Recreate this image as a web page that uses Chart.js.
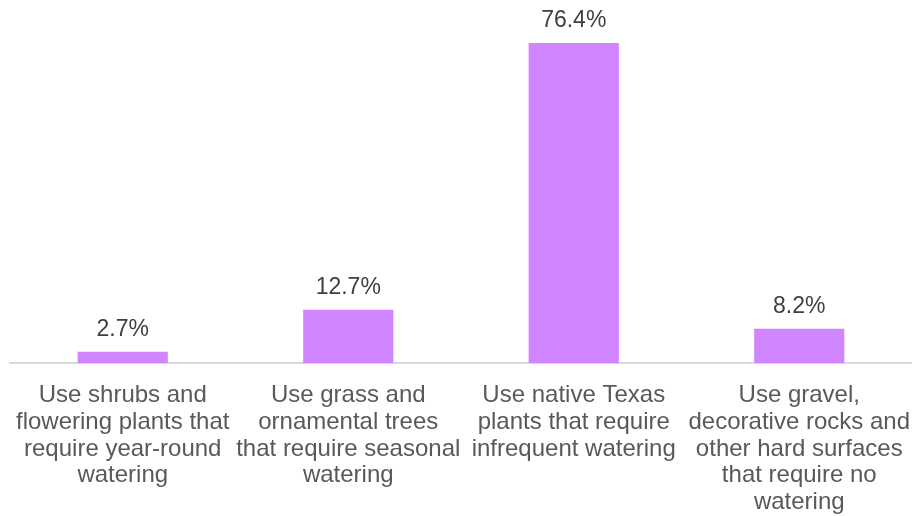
<!DOCTYPE html>
<html>
<head>
<meta charset="utf-8">
<script src="https://cdn.jsdelivr.net/npm/chart.js@4"></script>
<style>
  html, body { margin: 0; padding: 0; background: #ffffff; }
  #wrap { width: 912px; height: 516px; position: relative; }
</style>
</head>
<body>
<div id="wrap"><canvas id="chart"></canvas></div>
<script>
// Landscaping choices and the share of respondents picking each
const categories = [
  ["Use shrubs and", "flowering plants that", "require year-round", "watering"],
  ["Use grass and", "ornamental trees", "that require seasonal", "watering"],
  ["Use native Texas", "plants that require", "infrequent watering"],
  ["Use gravel,", "decorative rocks and", "other hard surfaces", "that require no", "watering"]
];
const shares = [2.7, 12.7, 76.4, 8.2];

const labelColor = '#595959';
const valueColor = '#404040';
const barColor = '#D186FF';
const fontFamily = '"Liberation Sans", Arial, sans-serif';

// Writes each bar's value above it
const valueLabels = {
  id: 'valueLabels',
  afterDatasetsDraw(chart) {
    const ctx = chart.ctx;
    const meta = chart.getDatasetMeta(0);
    ctx.save();
    ctx.font = '23px ' + fontFamily;
    ctx.fillStyle = valueColor;
    ctx.textAlign = 'center';
    ctx.textBaseline = 'middle';
    meta.data.forEach((bar, i) => {
      ctx.fillText(shares[i].toFixed(1) + '%', bar.x, bar.y - 22);
    });
    ctx.restore();
  }
};

new Chart(document.getElementById('chart'), {
  type: 'bar',
  data: {
    labels: categories,
    datasets: [{
      data: shares,
      backgroundColor: barColor,
      borderWidth: 0,
      categoryPercentage: 1,
      barPercentage: 0.4
    }]
  },
  options: {
    responsive: true,
    maintainAspectRatio: false,
    animation: false,
    layout: { padding: { left: 10, right: 0, top: 28, bottom: 0 } },
    plugins: {
      legend: { display: false },
      tooltip: { enabled: false }
    },
    scales: {
      x: {
        grid: { display: false, drawTicks: false },
        border: { display: true, color: '#D9D9D9', width: 2 },
        ticks: {
          color: labelColor,
          font: { family: fontFamily, size: 24, lineHeight: 1.115 },
          padding: 19,
          maxRotation: 0,
          autoSkip: false
        },
        afterFit(scale) {
          // the axis runs to the canvas edge; labels may overhang it
          scale.height = 153;
          scale.paddingLeft = 0;
          scale.paddingRight = 0;
        }
      },
      y: {
        display: false,
        min: 0,
        max: 80
      }
    }
  },
  plugins: [valueLabels]
});
</script>
</body>
</html>
